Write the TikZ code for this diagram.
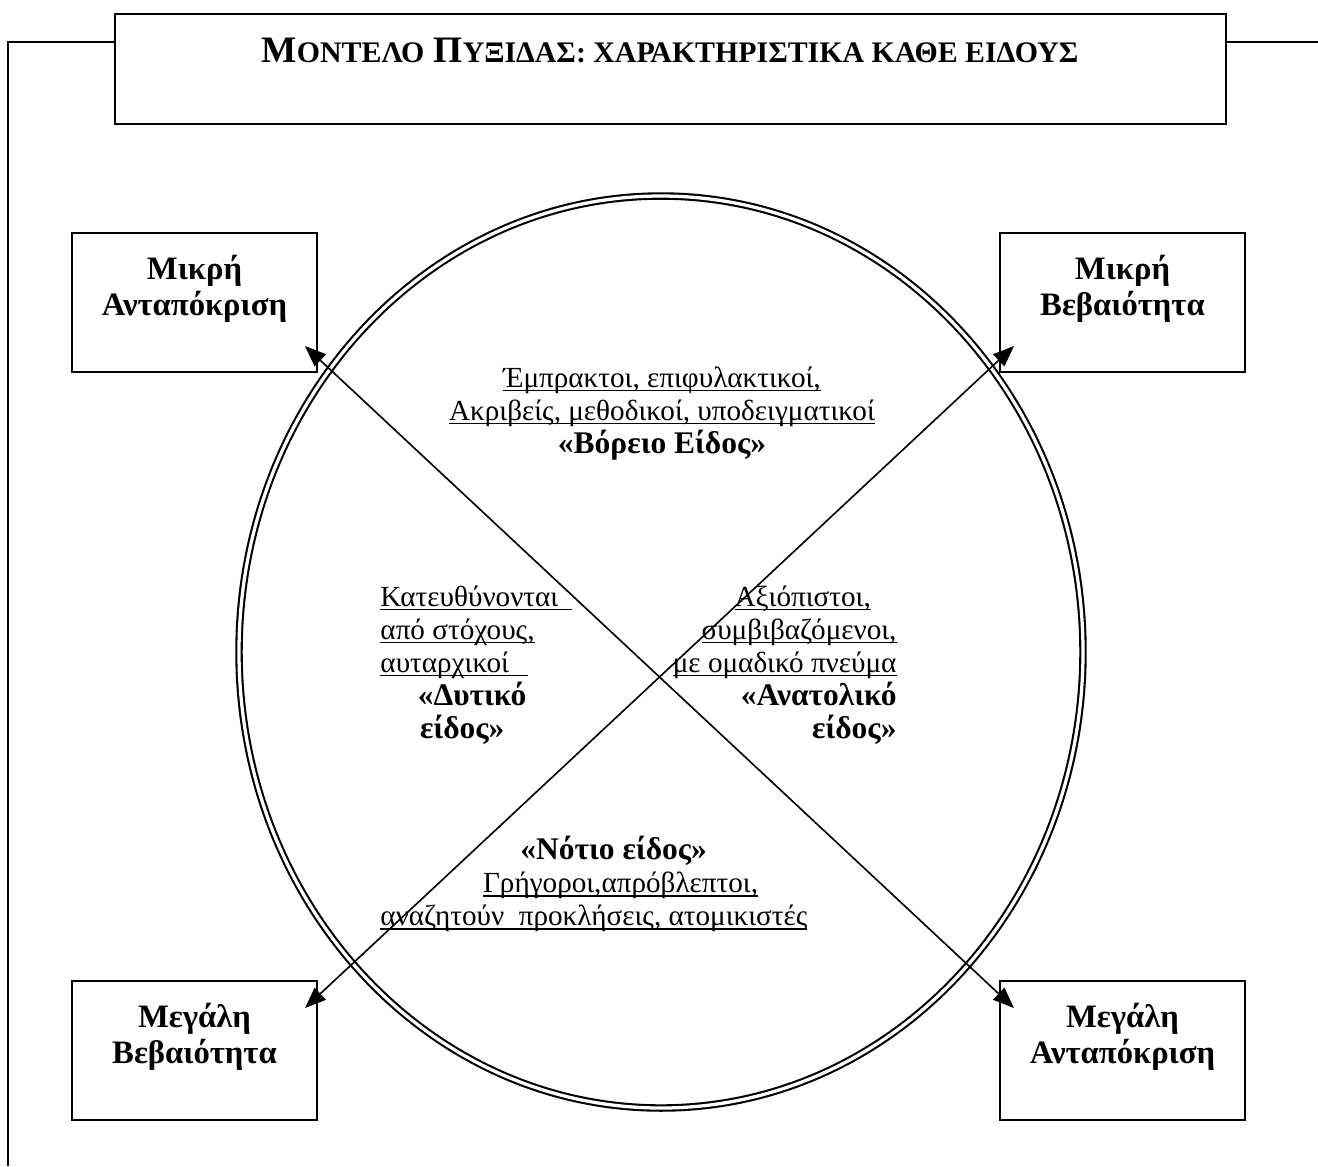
\documentclass[tikz,border=0pt]{standalone}
\usepackage{fontspec}
\setmainfont{Liberation Serif}
\usetikzlibrary{arrows.meta,shapes.geometric}
\newcommand\pxu{0.4286pt}
\newcommand\smcap[1]{{\fontsize{12.8}{15}\selectfont #1}}
% word-processor style underline at a fixed depth below the baseline
\newsavebox\undlbox
\newcommand\undl[1]{\sbox\undlbox{#1}\rlap{\rule[-1.7pt]{\wd\undlbox}{0.6pt}}\usebox\undlbox}
\newcommand\kind[1]{{\bfseries\fontsize{13.5}{14.14}\selectfont #1}}
\begin{document}
\begin{tikzpicture}[x=0.4286pt,y=-0.4286pt,
  frameline/.style={line width=1pt},
  boxed/.style={draw, line width=1.05pt, fill=white, inner sep=0pt},
  corner/.style={boxed, minimum width=245*\pxu, minimum height=139*\pxu},
  cornertext/.style={anchor=north, align=center, inner sep=0pt,
    font=\fontsize{14}{15.4}\selectfont\bfseries},
  body/.style={inner sep=0pt, font=\fontsize{12.5}{14.14}\selectfont},
  conn/.style={line width=0.7pt,
    {Triangle[length=9pt,width=7pt]}-{Triangle[length=9pt,width=7pt]}},
  compass/.style={draw, ellipse, double, double distance=1.4pt,
    line width=0.9pt, inner sep=0pt}
]
\useasboundingbox (0,0) rectangle (1318,1166);

% outer frame
\draw[frameline] (1318,42) -- (8,42) -- (8,1166);

% heading
\node[boxed, minimum width=1111*\pxu, minimum height=110*\pxu] (title) at (670.5,69) {};
\node[anchor=base, inner sep=0pt, font=\fontsize{16}{19}\selectfont\bfseries]
  (titletext) at (670,62)
  {Μ\smcap{ΟΝΤΕΛΟ} Π\smcap{ΥΞΙΔΑΣ: ΧΑΡΑΚΤΗΡΙΣΤΙΚΑ ΚΑΘΕ ΕΙΔΟΥΣ}};

% compass ring
\node[compass, minimum width=844*\pxu, minimum height=912*\pxu] (ring) at (661,652) {};

% corner boxes
\node[corner] (tl) at (194.5,302.5) {};
\node[corner] (tr) at (1122.5,302.5) {};
\node[corner] (bl) at (194.5,1050.5) {};
\node[corner] (br) at (1122.5,1050.5) {};

\node[cornertext] (tl-text) at (194.5,255) {Μικρή\\Ανταπόκριση};
\node[cornertext] (tr-text) at (1122.5,255) {Μικρή\\Βεβαιότητα};
\node[cornertext] (bl-text) at (194.5,1003) {Μεγάλη\\Βεβαιότητα};
\node[cornertext] (br-text) at (1122.5,1003) {Μεγάλη\\Ανταπόκριση};

% arrow ends inside the boxes
\coordinate (tl-tip) at (305,346);
\coordinate (tr-tip) at (1014,346);
\coordinate (bl-tip) at (305,1008);
\coordinate (br-tip) at (1014,1008);

\draw[conn] (tl-tip) -- (br-tip);
\draw[conn] (bl-tip) -- (tr-tip);

% the four kinds
\node[body, anchor=north, align=center] (north) at (662,366)
  {\undl{Έμπρακτοι, επιφυλακτικοί,}\\
   \undl{Ακριβείς, μεθοδικοί, υποδειγματικοί}\\
   \kind{«Βόρειο Είδος»}};

\node[body, anchor=north west, align=left] (west) at (380,585)
  {\undl{Κατευθύνονται\hspace{6pt}}\\
   \undl{από στόχους,}\\
   \undl{αυταρχικοί\hspace{8pt}}\\
   \hspace*{16pt}\kind{«Δυτικό}\\
   \hspace*{17pt}\kind{είδος»}};

\node[body, anchor=north east, align=right] (east) at (897,585)
  {\undl{Αξιόπιστοι,}\rule{11pt}{0pt}\\
   \undl{συμβιβαζόμενοι,}\\
   \undl{με ομαδικό πνεύμα}\\
   \kind{«Ανατολικό}\\
   \kind{είδος»}};

\node[body, anchor=north west, align=left] (south) at (380,836)
  {\hspace*{60pt}\kind{«Νότιο είδος»}\\
   \hspace*{44pt}\undl{Γρήγοροι,απρόβλεπτοι,}\\
   \undl{αναζητούν\ \ προκλήσεις, ατομικιστές}};
\end{tikzpicture}
\end{document}
